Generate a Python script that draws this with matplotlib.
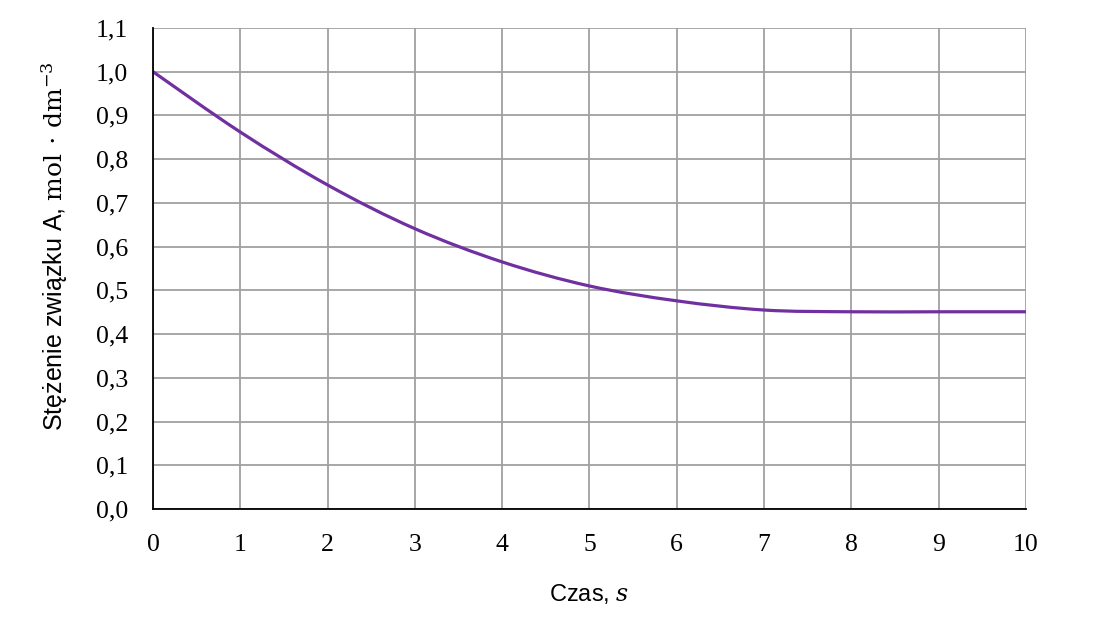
import matplotlib
matplotlib.use('Agg')
import matplotlib.pyplot as plt
from matplotlib.path import Path
from matplotlib.patches import PathPatch

plt.rcParams['mathtext.fontset'] = 'custom'
plt.rcParams['mathtext.rm'] = 'DejaVu Serif'
plt.rcParams['mathtext.it'] = 'DejaVu Serif:italic'

# data
czas = [0, 1, 2, 3, 4, 5, 6, 7, 8, 9, 10]
stezenie = [1.0, 0.862, 0.741, 0.641, 0.565, 0.51, 0.476, 0.455, 0.451, 0.451, 0.451]
x_ticks = list(range(0, 11))
y_ticks = [i / 10 for i in range(0, 12)]
y_labels = ['%.1f' % v for v in y_ticks]
y_labels = [s.replace('.', ',') for s in y_labels]

fig = plt.figure(figsize=(11.04, 6.22), dpi=100)
ax = fig.add_axes([0.1386, 0.1817, 0.7907, 0.7733])

# smoothed line (Catmull-Rom to Bezier, like Excel's smoothed line)
verts = [(czas[0], stezenie[0])]
codes = [Path.MOVETO]
n = len(czas)
for i in range(n - 1):
    p0 = (czas[max(i - 1, 0)], stezenie[max(i - 1, 0)])
    p1 = (czas[i], stezenie[i])
    p2 = (czas[i + 1], stezenie[i + 1])
    p3 = (czas[min(i + 2, n - 1)], stezenie[min(i + 2, n - 1)])
    c1 = (p1[0] + (p2[0] - p0[0]) / 6, p1[1] + (p2[1] - p0[1]) / 6)
    c2 = (p2[0] - (p3[0] - p1[0]) / 6, p2[1] - (p3[1] - p1[1]) / 6)
    verts += [c1, c2, p2]
    codes += [Path.CURVE4] * 3
ax.add_patch(PathPatch(Path(verts, codes), facecolor='none',
                       edgecolor='#7030A0', lw=2.3, zorder=3,
                       capstyle='round', joinstyle='round'))

ax.set_xlim(0, 10)
ax.set_ylim(0, 1.1)
ax.set_xticks(x_ticks)
ax.set_yticks(y_ticks)
ax.set_yticklabels(y_labels)
ax.grid(True, color='#a0a0a0', lw=1.3)
ax.set_axisbelow(True)
for side in ['top', 'right']:
    ax.spines[side].set_visible(False)
for side in ['left', 'bottom']:
    ax.spines[side].set_color('black')
    ax.spines[side].set_linewidth(1.3)
    ax.spines[side].set_zorder(4)
ax.tick_params(length=0, labelsize=18.5)
ax.tick_params(axis='y', pad=18)
ax.tick_params(axis='x', pad=18)
for lab in ax.get_xticklabels() + ax.get_yticklabels():
    lab.set_family('Liberation Serif')

ax.set_xlabel('Czas, $s$', fontsize=17, family='Liberation Sans', labelpad=19)
ax.set_ylabel('Stężenie związku A, $\\mathrm{mol\\,\\cdot\\,dm^{-3}}$', fontsize=18,
              family='Liberation Sans')
ax.yaxis.set_label_coords(-0.095, 0.547)

fig.savefig('out.png', dpi=100)
